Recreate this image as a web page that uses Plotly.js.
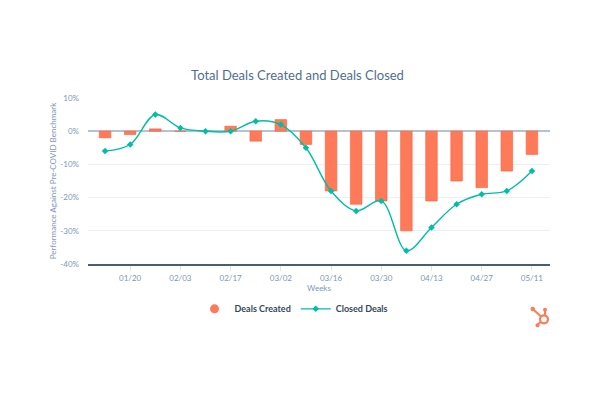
<!DOCTYPE html>
<html>
<head>
<meta charset="utf-8">
<script src="https://cdn.plot.ly/plotly-3.0.1.min.js"></script>
<style>html,body{margin:0;padding:0;background:#fff;}#chart{width:595px;height:396px;}</style>
</head>
<body>
<div id="chart"></div>
<script>
var weeks = ["01/13","01/20","01/27","02/03","02/10","02/17","02/24","03/02","03/09","03/16","03/23","03/30","04/06","04/13","04/20","04/27","05/04","05/11"];
var dealsCreated = [-2, -1, 0.7, 0, 0, 1.5, -3, 3.5, -4, -18, -22, -21, -30, -21, -15, -17, -12, -7];
var closedDeals = [-6, -4, 5, 1, 0, 0, 3, 2, -5, -18, -24, -21, -36, -29, -22, -19, -18, -12];
var tickWeeks = ["01/20","02/03","02/17","03/02","03/16","03/30","04/13","04/27","05/11"];
var yTicks = [10, 0, -10, -20, -30, -40];
var yTickText = ["10%", "0%", "-10%", "-20%", "-30%", "-40%"];

var L = 88, R = 550, T = 97.5, B = 264;
function px(x){ return (x - L) / (R - L); }
function py(y){ return (B - y) / (B - T); }

var orange = '#ff7a59';
var teal = '#00bda5';

var traces = [
  {
    type: 'bar', x: weeks, y: dealsCreated, name: 'Deals Created', showlegend: false,
    width: 0.46,
    marker: {color: orange, line: {color: '#ff5c35', width: 0.6}},
    hoverinfo: 'x+y'
  },
  {
    type: 'scatter', mode: 'markers', x: [null], y: [null], name: 'Deals Created',
    marker: {color: orange, size: 9, symbol: 'circle'}, showlegend: true
  },
  {
    type: 'scatter', mode: 'lines+markers', x: weeks, y: closedDeals, name: 'Closed Deals',
    line: {color: teal, width: 1.4, shape: 'spline', smoothing: 1},
    marker: {color: teal, size: 5, symbol: 'diamond'}
  }
];

var ringCx = 544, ringCy = 319.5;
var shapes = [
  {type:'line', xref:'paper', yref:'paper', x0:px(533), y0:py(309.5), x1:px(ringCx), y1:py(ringCy), line:{color:orange, width:2}},
  {type:'line', xref:'paper', yref:'paper', x0:px(545), y0:py(310), x1:px(545), y1:py(ringCy), line:{color:orange, width:2}},
  {type:'line', xref:'paper', yref:'paper', x0:px(537.5), y0:py(325), x1:px(ringCx), y1:py(ringCy), line:{color:orange, width:2}},
  {type:'circle', xref:'paper', yref:'paper', x0:px(ringCx-4), y0:py(ringCy-4), x1:px(ringCx+4), y1:py(ringCy+4), fillcolor:'#ffffff', line:{color:orange, width:2.2}},
  {type:'circle', xref:'paper', yref:'paper', x0:px(530.5), y0:py(307), x1:px(535), y1:py(311.5), fillcolor:orange, line:{color:orange, width:0}},
  {type:'circle', xref:'paper', yref:'paper', x0:px(543), y0:py(308), x1:px(547), y1:py(312), fillcolor:orange, line:{color:orange, width:0}},
  {type:'circle', xref:'paper', yref:'paper', x0:px(535.5), y0:py(323.5), x1:px(539.5), y1:py(327.5), fillcolor:orange, line:{color:orange, width:0}}
];

var layout = {
  width: 595, height: 396,
  margin: {l: L, r: 595 - R, t: T, b: 396 - B, pad: 0},
  paper_bgcolor: '#ffffff', plot_bgcolor: '#ffffff',
  font: {family: 'Lato, "Open Sans", sans-serif', color: '#7c98b6', size: 8},
  title: {
    text: 'Total Deals Created and Deals Closed',
    x: 0.5, xref: 'container', xanchor: 'center',
    y: 1 - 75/396, yref: 'container', yanchor: 'middle',
    font: {family: 'Lato, "Open Sans", sans-serif', size: 13, color: '#516f90'}
  },
  showlegend: true,
  legend: {
    orientation: 'h', x: px(294), xanchor: 'center', y: py(309), yanchor: 'middle',
    font: {family: 'Lato, "Open Sans", sans-serif', size: 9, color: '#33475b', weight: 'bold'},
    traceorder: 'normal', tracegroupgap: 0, itemwidth: 30
  },
  xaxis: {
    type: 'category', categoryorder: 'array', categoryarray: weeks,
    range: [-0.68, 17.72],
    tickmode: 'array', tickvals: tickWeeks, ticktext: tickWeeks,
    ticks: 'outside', ticklen: 5, tickcolor: '#dfe5ec', tickwidth: 1,
    showgrid: false, zeroline: false,
    showline: true, linecolor: '#4a5d73', linewidth: 2,
    tickfont: {size: 8, color: '#7c98b6'},
    title: {text: 'Weeks', font: {size: 8, color: '#7c98b6'}, standoff: 3},
    fixedrange: true
  },
  yaxis: {
    range: [-40, 10],
    tickmode: 'array', tickvals: yTicks, ticktext: yTickText,
    showgrid: true, gridcolor: '#eaf0f6', gridwidth: 1,
    zeroline: true, zerolinecolor: '#b3c3d4', zerolinewidth: 1.5,
    showline: false, ticks: '',
    ticklabelstandoff: 8,
    tickfont: {size: 8, color: '#7c98b6'},
    title: {text: 'Performance Against Pre-COVID Benchmark', font: {size: 8, color: '#7c98b6'}, standoff: 2},
    fixedrange: true
  },
  bargap: 0.5,
  shapes: shapes
};

Plotly.newPlot('chart', traces, layout, {displayModeBar: false, staticPlot: true});
</script>
</body>
</html>
